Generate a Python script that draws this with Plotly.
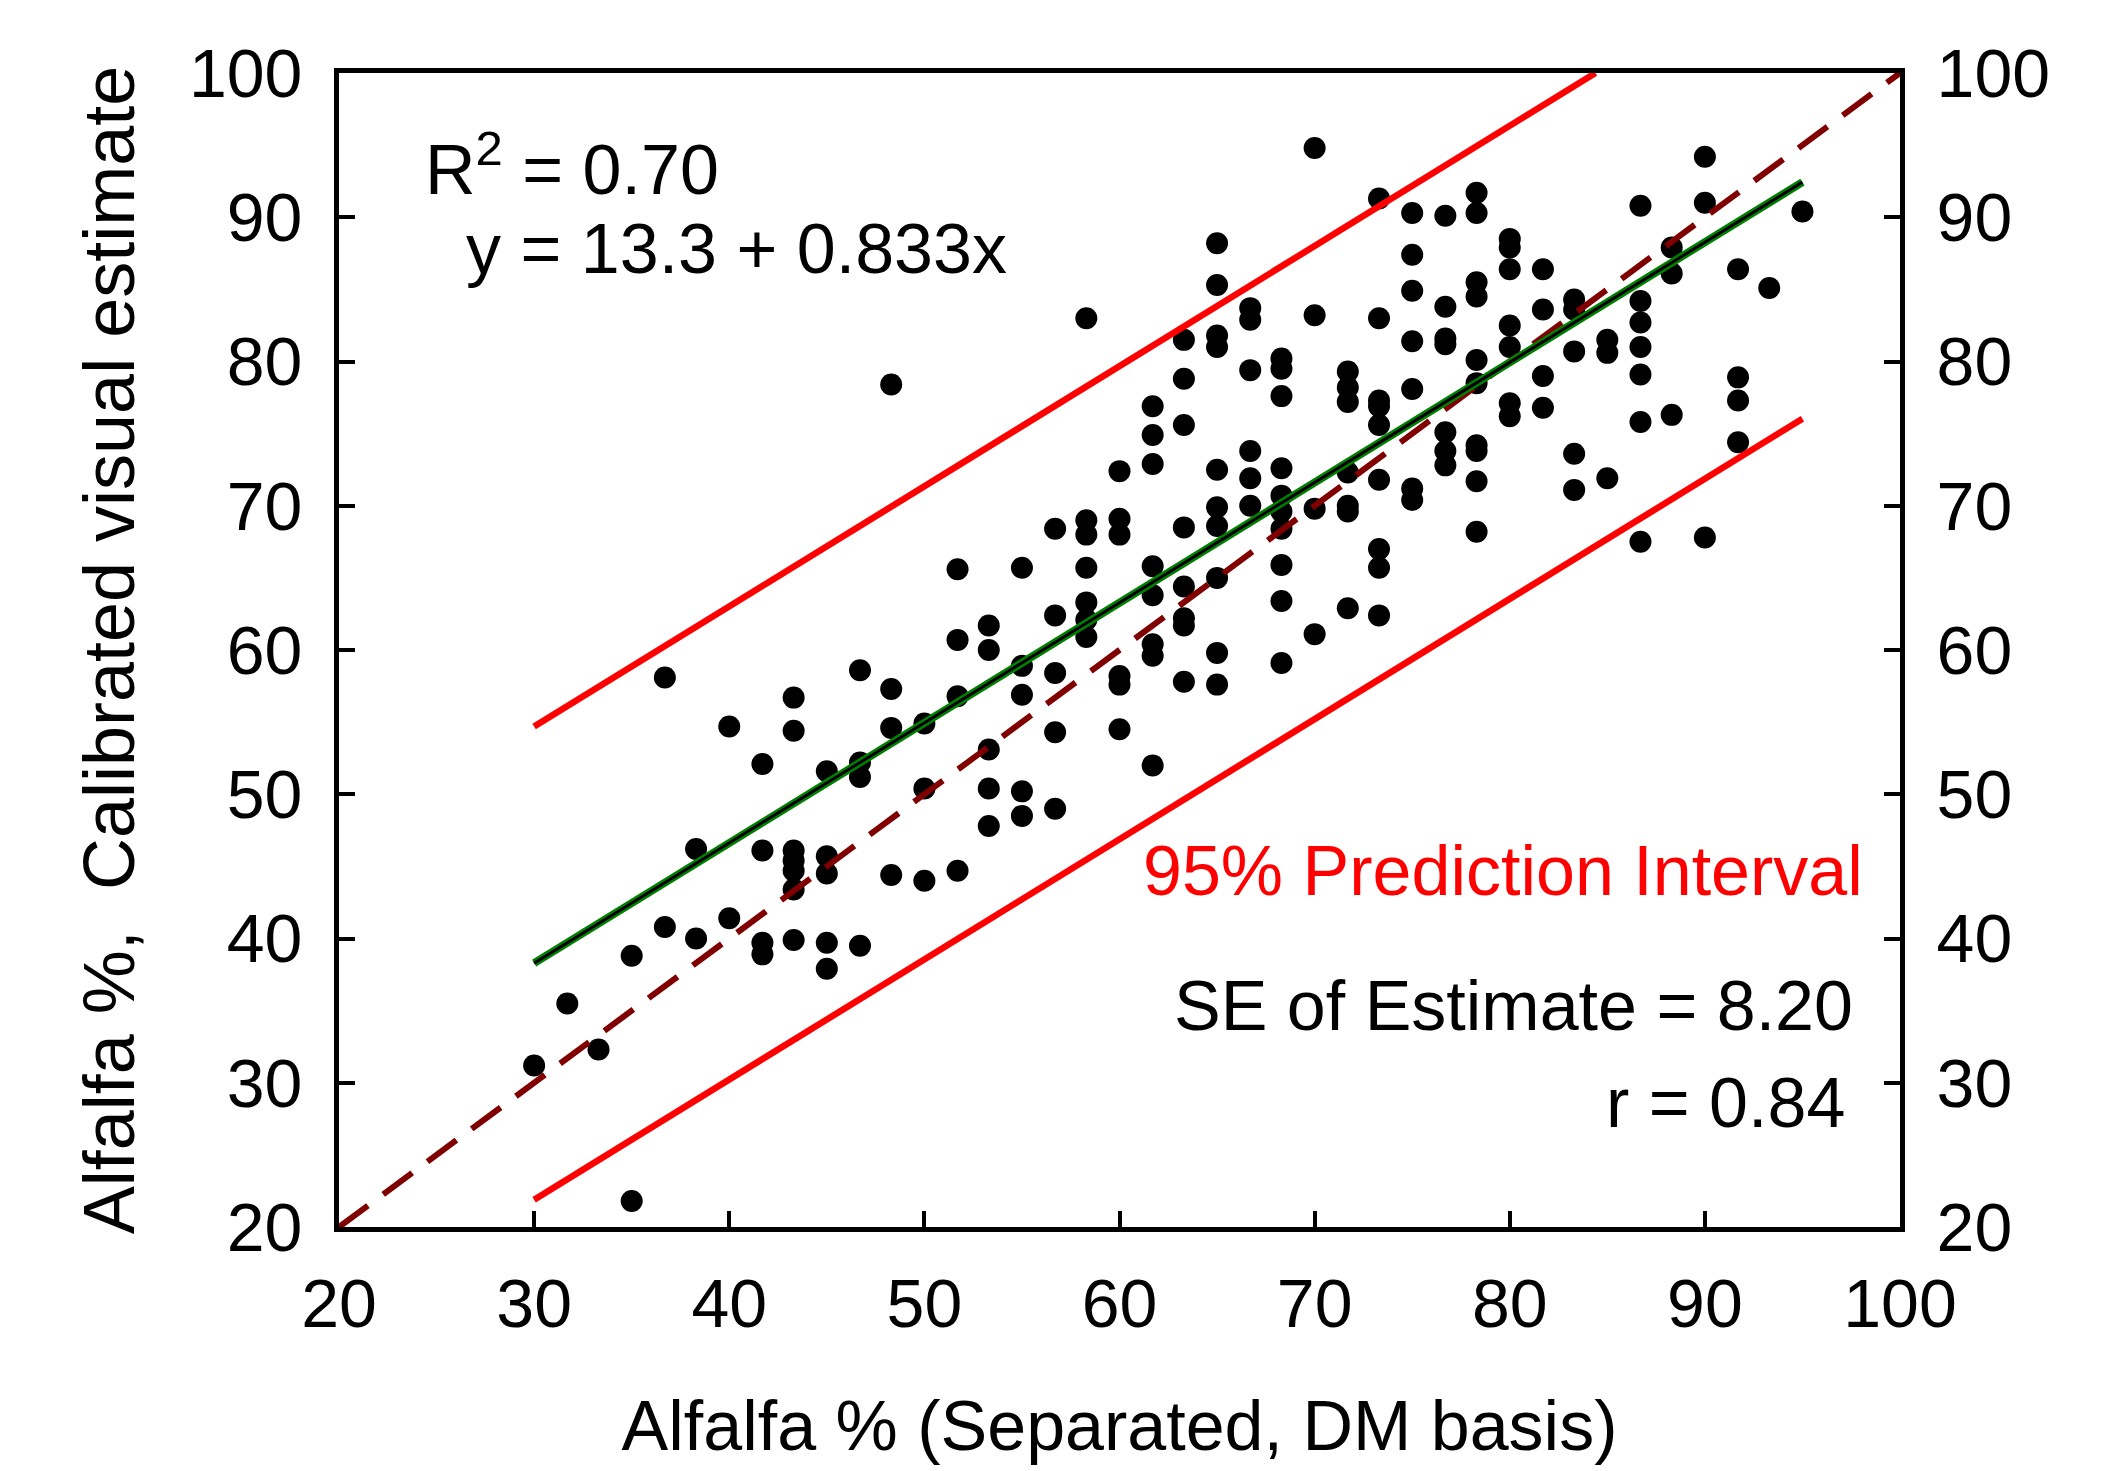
import plotly.graph_objects as go

# ---------------- data ----------------
x_sep = (
    [30.0] + [31.7] + [33.3] + [35.0]*2 + [36.7]*2 + [38.3]*2 + [40.0]*2 +
    [41.7]*4 + [43.3]*7 + [45.0]*5 + [46.7]*4 + [48.3]*4 + [50.0]*3 +
    [51.7]*4 + [53.3]*5 + [55.0]*5 + [56.7]*5 + [58.3]*7 + [60.0]*6 +
    [61.7]*8 + [63.3]*8 + [65.0]*10 + [66.7]*6 + [68.3]*10 + [70.0]*4 +
    [71.7]*7 + [73.3]*9 + [75.0]*7 + [76.7]*7 + [78.3]*10 + [80.0]*7 +
    [81.7]*4 + [83.3]*5 + [85.0]*3 + [86.7]*7 + [88.3]*3 + [90.0]*3 +
    [91.7]*4 + [93.3] + [95.0]
)
y_visual = (
    [31.2] + [35.5] + [32.3] + [38.8, 21.8] + [58.1, 40.8] + [46.2, 40.0] + [54.7, 41.4] +
    [52.1, 46.1, 39.7, 38.9] +
    [56.7, 54.4, 46.1, 45.4, 44.7, 43.4, 39.9] +
    [51.6, 45.7, 44.5, 39.7, 37.9] +
    [58.6, 52.2, 51.2, 39.5] +
    [78.4, 57.3, 54.6, 44.4] +
    [54.9, 50.4, 44.0] +
    [65.6, 60.7, 56.8, 44.7] +
    [61.7, 60.0, 53.1, 50.4, 47.8] +
    [65.7, 58.9, 56.9, 50.2, 48.5] +
    [68.4, 62.4, 58.4, 54.3, 49.0] +
    [83.0, 69.0, 68.0, 65.7, 63.3, 62.1, 60.9] +
    [72.4, 69.1, 68.0, 58.2, 57.6, 54.5] +
    [76.9, 74.9, 72.9, 65.8, 63.8, 60.4, 59.6, 52.0] +
    [81.5, 78.8, 75.6, 68.5, 64.4, 62.2, 61.7, 57.8] +
    [88.2, 85.3, 81.8, 81.0, 72.5, 69.9, 68.6, 65.0, 59.8, 57.6] +
    [83.7, 82.9, 79.4, 73.8, 71.9, 70.0] +
    [80.2, 79.5, 77.6, 72.6, 70.7, 69.6, 68.4, 65.9, 63.4, 59.1] +
    [94.8, 83.2, 69.8, 61.1] +
    [79.3, 78.2, 77.2, 72.3, 70.0, 69.6, 62.9] +
    [91.3, 83.0, 77.3, 76.9, 75.6, 71.8, 67.0, 65.7, 62.4] +
    [90.3, 87.4, 84.9, 81.4, 78.1, 71.2, 70.4] +
    [90.1, 83.8, 81.6, 81.2, 75.1, 73.8, 72.8] +
    [91.7, 90.3, 85.5, 84.5, 80.1, 78.5, 74.2, 73.8, 71.7, 68.2] +
    [88.5, 87.9, 86.4, 82.5, 81.0, 77.1, 76.2] +
    [86.4, 83.6, 79.0, 76.8] +
    [84.3, 83.6, 80.7, 73.6, 71.1] +
    [81.5, 80.6, 71.9] +
    [90.8, 84.2, 82.7, 81.0, 79.1, 75.8, 67.5] +
    [87.9, 86.1, 76.3] +
    [94.2, 91.0, 67.8] +
    [86.4, 78.9, 77.3, 74.4] +
    [85.1] +
    [90.4]
)

fit_intercept = 13.3
fit_slope = 0.833
pi_half_width = 16.4          # ~2 x SE of estimate
fit_x_range = [30, 95]
one_to_one = [20, 100]
axis_ticks = [20, 30, 40, 50, 60, 70, 80, 90, 100]

# ---------------- derived lines ----------------
def fit(x, offset=0.0):
    return fit_intercept + fit_slope * x + offset

x_fit = fit_x_range
y_fit = [fit(v) for v in x_fit]
x_up_end = min(fit_x_range[1], (100 - fit_intercept - pi_half_width) / fit_slope)
x_up = [fit_x_range[0], x_up_end]
y_up = [fit(v, pi_half_width) for v in x_up]
x_lo = fit_x_range
y_lo = [fit(v, -pi_half_width) for v in x_lo]

FONT = "Arial, 'Liberation Sans', sans-serif"

fig = go.Figure()
fig.add_trace(go.Scatter(x=x_sep, y=y_visual, mode="markers",
                         marker=dict(color="black", size=22, line=dict(width=0)),
                         cliponaxis=False, showlegend=False))
fig.add_trace(go.Scatter(x=one_to_one, y=one_to_one, mode="lines",
                         line=dict(color="#800000", width=6, dash="36px,19px"),
                         showlegend=False))
fig.add_trace(go.Scatter(x=x_up, y=y_up, mode="lines",
                         line=dict(color="#ff0000", width=6.5), showlegend=False))
fig.add_trace(go.Scatter(x=x_lo, y=y_lo, mode="lines",
                         line=dict(color="#ff0000", width=6.5), showlegend=False))
fig.add_trace(go.Scatter(x=x_fit, y=y_fit, mode="lines",
                         line=dict(color="#008000", width=8), showlegend=False))
fig.add_trace(go.Scatter(x=x_fit, y=y_fit, mode="lines",
                         line=dict(color="black", width=3), showlegend=False))
# invisible trace to activate the right-hand y axis
fig.add_trace(go.Scatter(x=[None], y=[None], yaxis="y2", mode="markers",
                         showlegend=False, hoverinfo="skip"))

common_axis = dict(range=[20, 100], tickvals=axis_ticks, ticks="inside", ticklen=16,
                   tickwidth=4, tickcolor="black", showline=True, linecolor="black",
                   linewidth=5, showgrid=False, zeroline=False,
                   tickfont=dict(size=68, family=FONT, color="black"))

# the page body has an 8 px default margin, so the figure is shrunk by 8 px
fig.update_layout(
    width=2105, height=1463,
    margin=dict(l=331, r=213, t=65, b=244),
    plot_bgcolor="white", paper_bgcolor="white",
    font=dict(family=FONT, color="black", size=68),
    showlegend=False,
    xaxis=dict(**common_axis, mirror=True, ticklabelstandoff=13,
               title=dict(text="Alfalfa % (Separated, DM basis)",
                          font=dict(size=70, family=FONT), standoff=63)),
    yaxis=dict(**common_axis, mirror=True, ticklabelstandoff=18,
               title=dict(text="Alfalfa %,  Calibrated visual estimate",
                          font=dict(size=72, family=FONT), standoff=32)),
    yaxis2=dict(**common_axis, overlaying="y", side="right", anchor="x",
                ticklabelstandoff=18),
)

ann_font = dict(size=70, family=FONT, color="black")
fig.add_annotation(x=24.3, y=93.6, xref="x", yref="y", text="R<sup>2</sup> = 0.70",
                   showarrow=False, xanchor="left", yanchor="middle", font=ann_font)
fig.add_annotation(x=26.4, y=87.8, xref="x", yref="y", text="y = 13.3 + 0.833x",
                   showarrow=False, xanchor="left", yanchor="middle", font=ann_font)
fig.add_annotation(x=98.2, y=44.7, xref="x", yref="y", text="95% Prediction Interval",
                   showarrow=False, xanchor="right", yanchor="middle",
                   font=dict(size=70, family=FONT, color="#ff0000"))
fig.add_annotation(x=97.7, y=35.3, xref="x", yref="y", text="SE of Estimate = 8.20",
                   showarrow=False, xanchor="right", yanchor="middle", font=ann_font)
fig.add_annotation(x=97.3, y=28.6, xref="x", yref="y", text="r = 0.84",
                   showarrow=False, xanchor="right", yanchor="middle", font=ann_font)

fig.write_html("out.html")
